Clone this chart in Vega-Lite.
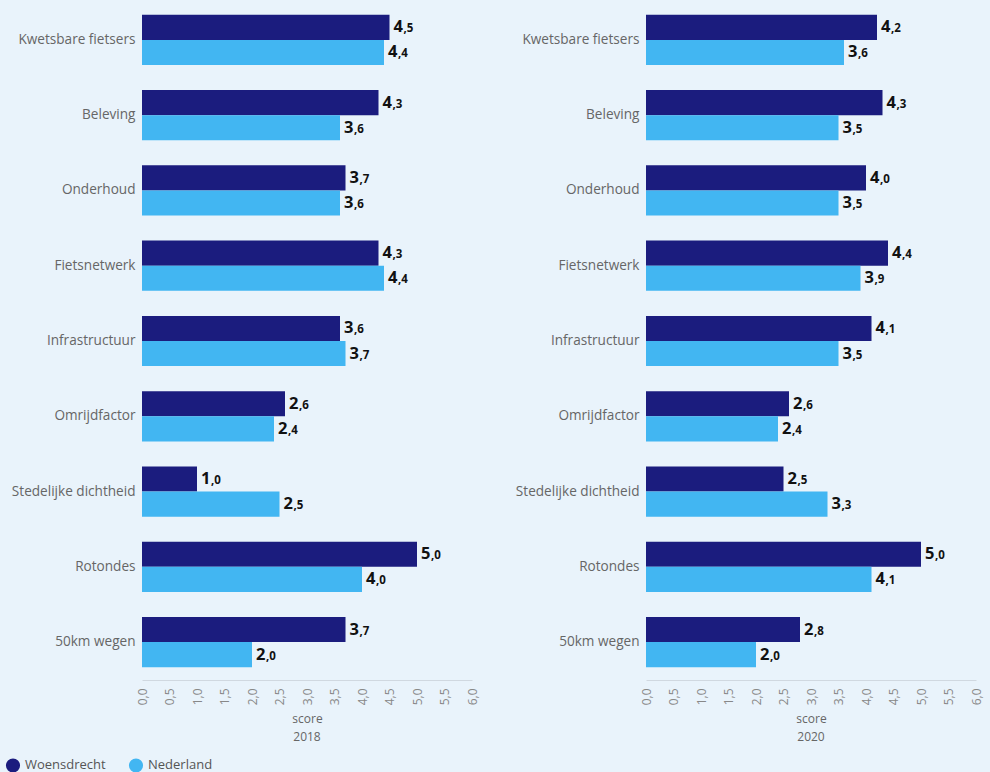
{
  "$schema": "https://vega.github.io/schema/vega-lite/v6.json",
  "background": "#e9f3fb",
  "padding": {"left": 5, "top": 2, "right": 13, "bottom": 2},
  "data": {"values": [
    {"jaar": "2018", "categorie": "Kwetsbare fietsers", "reeks": "Woensdrecht", "score": 4.5},
    {"jaar": "2018", "categorie": "Kwetsbare fietsers", "reeks": "Nederland", "score": 4.4},
    {"jaar": "2018", "categorie": "Beleving", "reeks": "Woensdrecht", "score": 4.3},
    {"jaar": "2018", "categorie": "Beleving", "reeks": "Nederland", "score": 3.6},
    {"jaar": "2018", "categorie": "Onderhoud", "reeks": "Woensdrecht", "score": 3.7},
    {"jaar": "2018", "categorie": "Onderhoud", "reeks": "Nederland", "score": 3.6},
    {"jaar": "2018", "categorie": "Fietsnetwerk", "reeks": "Woensdrecht", "score": 4.3},
    {"jaar": "2018", "categorie": "Fietsnetwerk", "reeks": "Nederland", "score": 4.4},
    {"jaar": "2018", "categorie": "Infrastructuur", "reeks": "Woensdrecht", "score": 3.6},
    {"jaar": "2018", "categorie": "Infrastructuur", "reeks": "Nederland", "score": 3.7},
    {"jaar": "2018", "categorie": "Omrijdfactor", "reeks": "Woensdrecht", "score": 2.6},
    {"jaar": "2018", "categorie": "Omrijdfactor", "reeks": "Nederland", "score": 2.4},
    {"jaar": "2018", "categorie": "Stedelijke dichtheid", "reeks": "Woensdrecht", "score": 1.0},
    {"jaar": "2018", "categorie": "Stedelijke dichtheid", "reeks": "Nederland", "score": 2.5},
    {"jaar": "2018", "categorie": "Rotondes", "reeks": "Woensdrecht", "score": 5.0},
    {"jaar": "2018", "categorie": "Rotondes", "reeks": "Nederland", "score": 4.0},
    {"jaar": "2018", "categorie": "50km wegen", "reeks": "Woensdrecht", "score": 3.7},
    {"jaar": "2018", "categorie": "50km wegen", "reeks": "Nederland", "score": 2.0},
    {"jaar": "2020", "categorie": "Kwetsbare fietsers", "reeks": "Woensdrecht", "score": 4.2},
    {"jaar": "2020", "categorie": "Kwetsbare fietsers", "reeks": "Nederland", "score": 3.6},
    {"jaar": "2020", "categorie": "Beleving", "reeks": "Woensdrecht", "score": 4.3},
    {"jaar": "2020", "categorie": "Beleving", "reeks": "Nederland", "score": 3.5},
    {"jaar": "2020", "categorie": "Onderhoud", "reeks": "Woensdrecht", "score": 4.0},
    {"jaar": "2020", "categorie": "Onderhoud", "reeks": "Nederland", "score": 3.5},
    {"jaar": "2020", "categorie": "Fietsnetwerk", "reeks": "Woensdrecht", "score": 4.4},
    {"jaar": "2020", "categorie": "Fietsnetwerk", "reeks": "Nederland", "score": 3.9},
    {"jaar": "2020", "categorie": "Infrastructuur", "reeks": "Woensdrecht", "score": 4.1},
    {"jaar": "2020", "categorie": "Infrastructuur", "reeks": "Nederland", "score": 3.5},
    {"jaar": "2020", "categorie": "Omrijdfactor", "reeks": "Woensdrecht", "score": 2.6},
    {"jaar": "2020", "categorie": "Omrijdfactor", "reeks": "Nederland", "score": 2.4},
    {"jaar": "2020", "categorie": "Stedelijke dichtheid", "reeks": "Woensdrecht", "score": 2.5},
    {"jaar": "2020", "categorie": "Stedelijke dichtheid", "reeks": "Nederland", "score": 3.3},
    {"jaar": "2020", "categorie": "Rotondes", "reeks": "Woensdrecht", "score": 5.0},
    {"jaar": "2020", "categorie": "Rotondes", "reeks": "Nederland", "score": 4.1},
    {"jaar": "2020", "categorie": "50km wegen", "reeks": "Woensdrecht", "score": 2.8},
    {"jaar": "2020", "categorie": "50km wegen", "reeks": "Nederland", "score": 2.0}
  ]},
  "transform": [
    {"calculate": "replace(format(datum.score, '.1f'), '.', ',')", "as": "lbl"},
    {"calculate": "split(datum.lbl, ',')[0]", "as": "lblInt"},
    {"calculate": "',' + split(datum.lbl, ',')[1]", "as": "lblDec"}
  ],
  "facet": {
    "column": {
      "field": "jaar", "type": "nominal",
      "header": {"labelOrient": "bottom", "labelFont": "Open Sans", "labelFontSize": 12, "labelColor": "#666666", "labelPadding": 7, "title": null}
    }
  },
  "spacing": 43,
  "resolve": {"axis": {"y": "independent"}},
  "spec": {
    "width": 330,
    "height": 678,
    "encoding": {
      "y": {
        "field": "categorie", "type": "nominal",
        "sort": ["Kwetsbare fietsers", "Beleving", "Onderhoud", "Fietsnetwerk", "Infrastructuur", "Omrijdfactor", "Stedelijke dichtheid", "Rotondes", "50km wegen"],
        "scale": {"paddingInner": 0.333, "paddingOuter": 0.17},
        "axis": {"title": null, "domain": false, "ticks": false, "labelPadding": 7, "labelFont": "Open Sans", "labelFontSize": 13.6, "labelColor": "#666666"}
      },
      "yOffset": {"field": "reeks", "type": "nominal", "sort": ["Woensdrecht", "Nederland"]},
      "x": {
        "field": "score", "type": "quantitative",
        "scale": {"domain": [0, 6]},
        "axis": {"title": "score", "titleFont": "Open Sans", "titleFontWeight": "normal", "titleFontSize": 12, "titleColor": "#666666", "titlePadding": 9,
                 "values": [0, 0.5, 1, 1.5, 2, 2.5, 3, 3.5, 4, 4.5, 5, 5.5, 6],
                 "labelExpr": "replace(format(datum.value, '.1f'), '.', ',')",
                 "labelOverlap": false,
                 "labelAngle": -90, "labelFont": "Open Sans", "labelFontSize": 12, "labelColor": "#888888",
                 "grid": false, "ticks": false, "domainColor": "#d0d8e0", "labelPadding": 8}
      }
    },
    "layer": [
      {
        "mark": {"type": "bar"},
        "encoding": {
          "color": {
            "field": "reeks", "type": "nominal",
            "scale": {"domain": ["Woensdrecht", "Nederland"], "range": ["#1b1c7e", "#42b6f2"]},
            "legend": {"title": null, "orient": "none", "legendX": -137, "legendY": 755, "direction": "horizontal", "symbolType": "circle", "symbolSize": 200, "symbolOpacity": 1, "labelFont": "Open Sans", "labelFontSize": 13, "labelColor": "#555555", "columnPadding": 22}
          }
        }
      },
      {
        "mark": {"type": "text", "align": "left", "baseline": "middle", "dx": 4, "fontWeight": "bold", "font": "Open Sans", "fontSize": 16.5, "color": "#111111"},
        "encoding": {"text": {"field": "lblInt"}}
      },
      {
        "mark": {"type": "text", "align": "left", "baseline": "middle", "dx": 14, "dy": 2, "fontWeight": "bold", "font": "Open Sans", "fontSize": 11.5, "color": "#111111"},
        "encoding": {"text": {"field": "lblDec"}}
      }
    ]
  },
  "config": {"view": {"stroke": null}}
}
